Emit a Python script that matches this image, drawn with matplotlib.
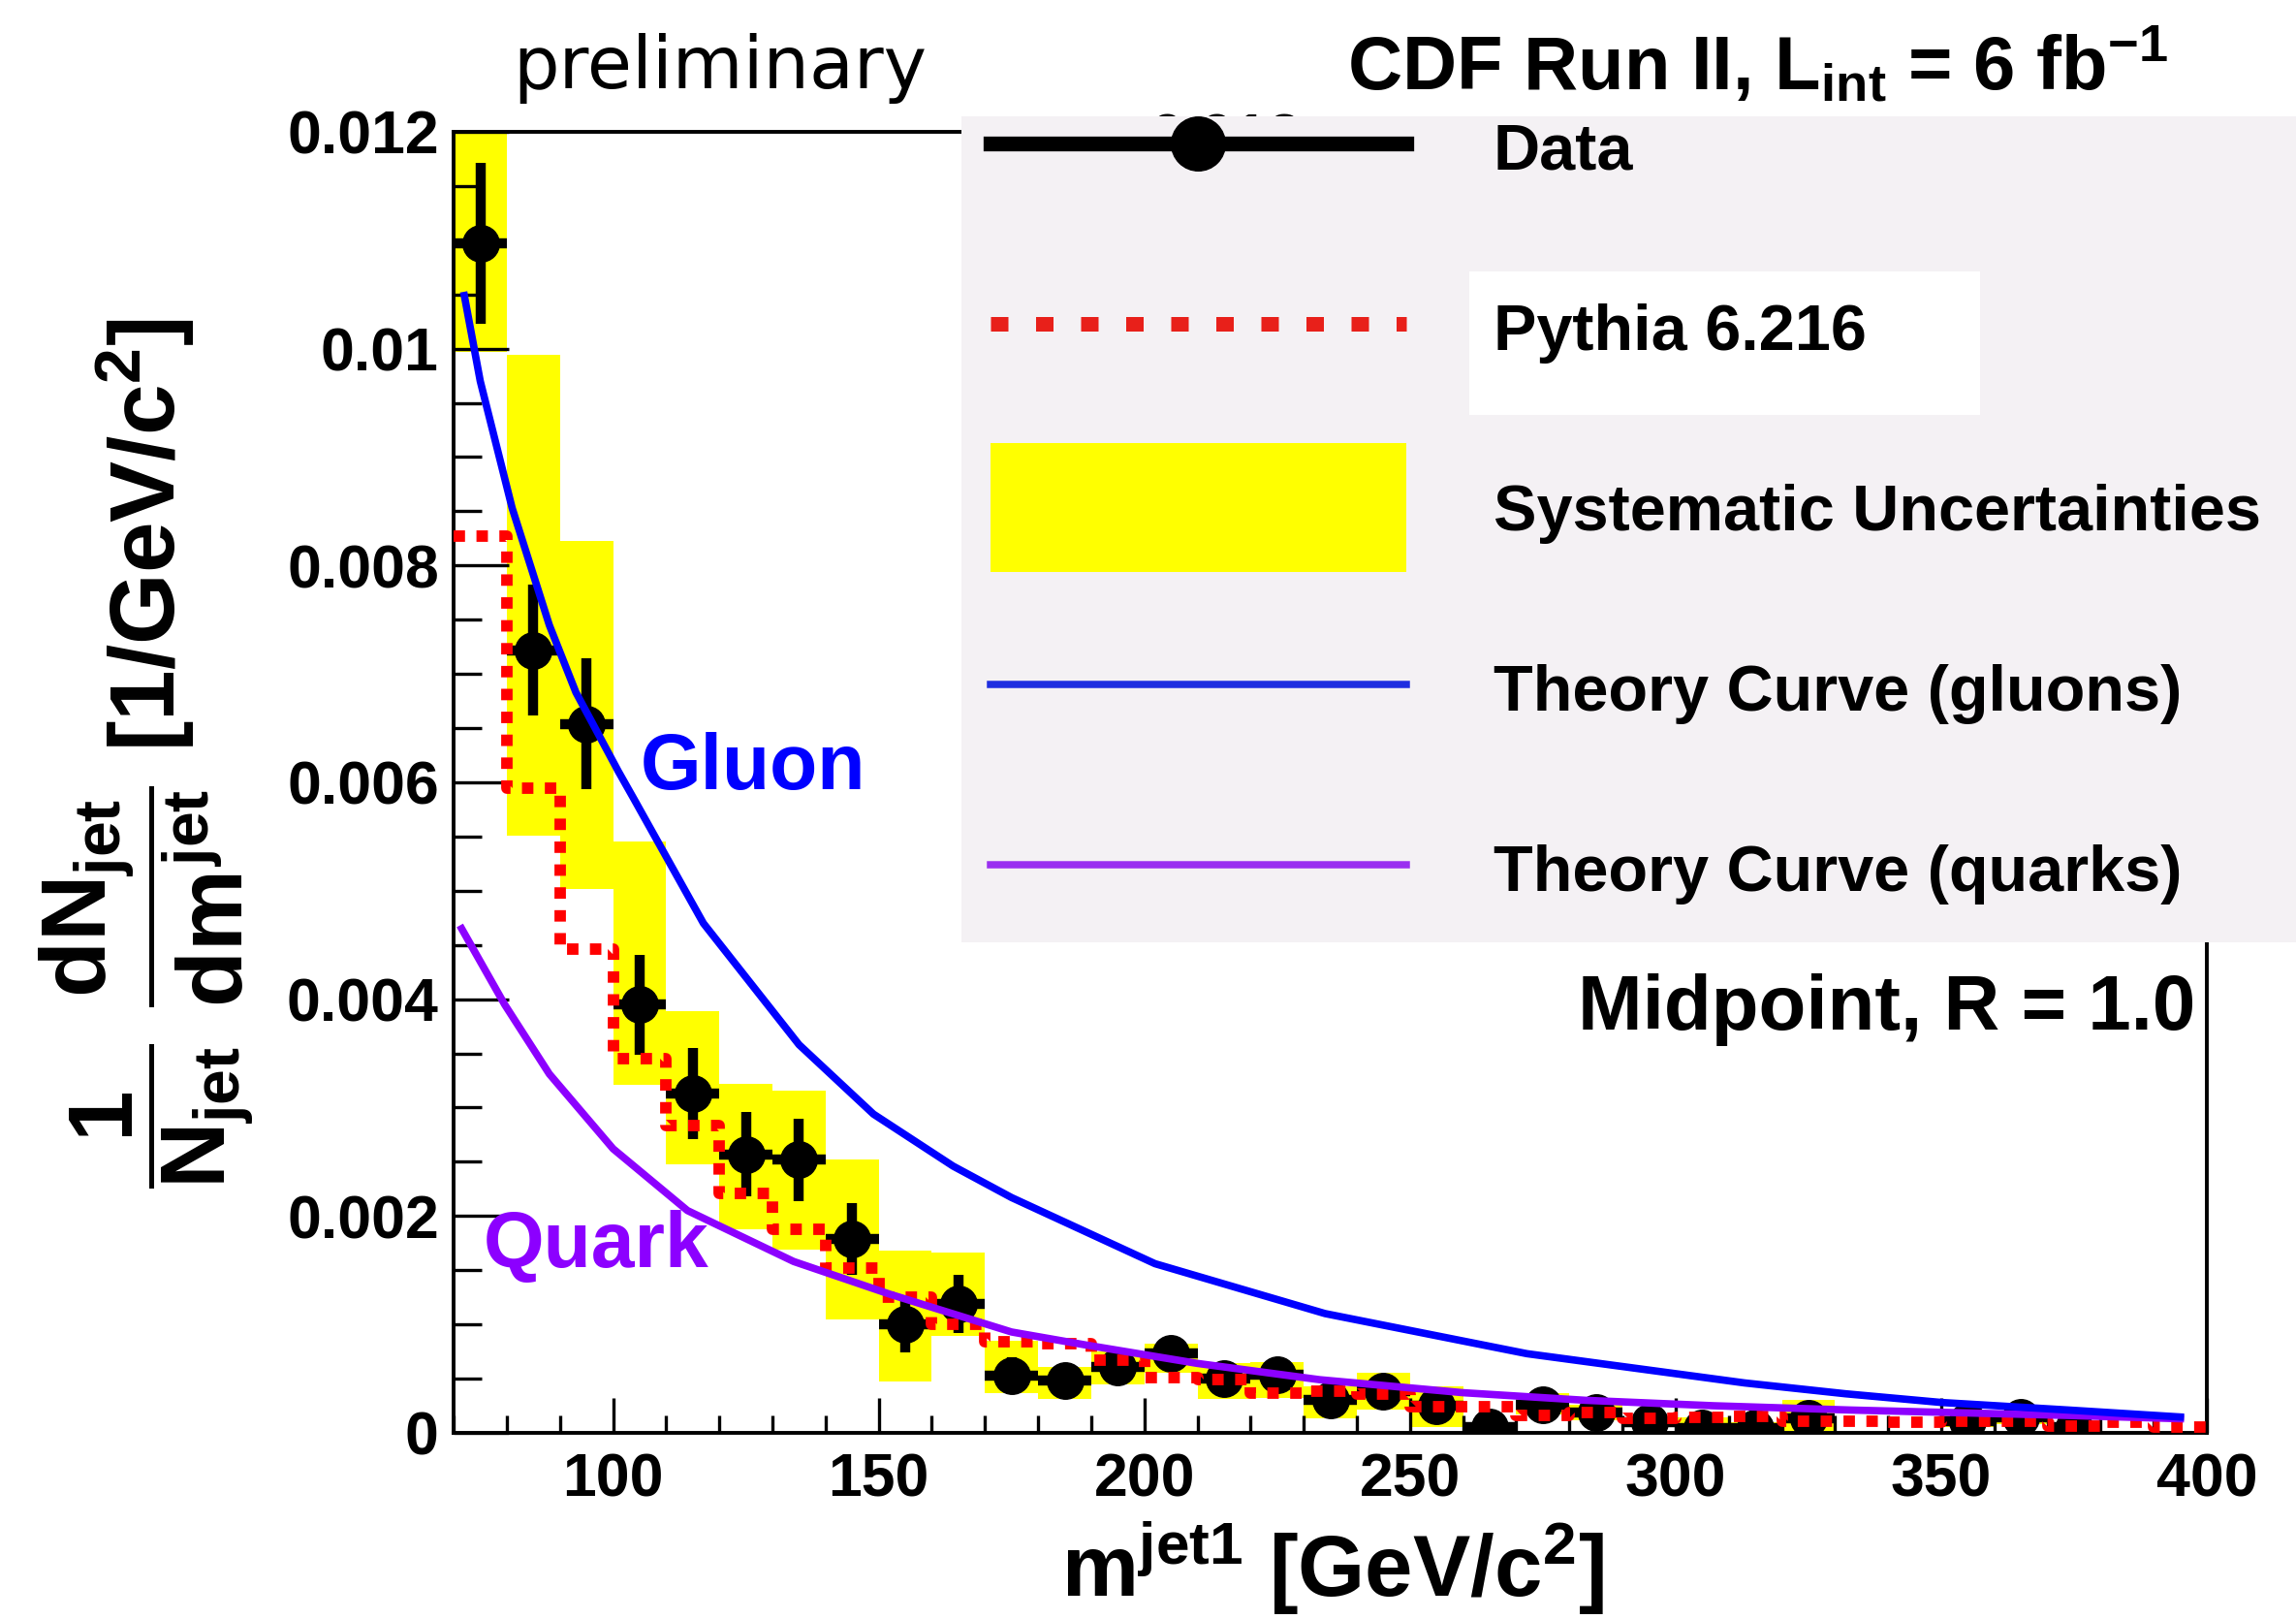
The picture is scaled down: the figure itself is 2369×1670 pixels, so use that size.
import numpy as np
import matplotlib
matplotlib.use('Agg')
import matplotlib.pyplot as plt
from matplotlib.lines import Line2D
from matplotlib.patches import Patch, Rectangle
from matplotlib.legend_handler import HandlerPatch
from matplotlib.ticker import MultipleLocator, FuncFormatter

# bins of the jet mass histogram [GeV/c^2]
bin_edges = [70, 80, 90, 100, 110, 120, 130, 140, 150, 160, 170, 180, 190, 200, 210, 220,
             230, 240, 250, 260, 270, 280, 290, 300, 310, 320, 330, 340, 350, 360, 370, 380,
             390, 400]

# data points (bin centres), value and statistical error
data_x = [75, 85, 95, 105, 115, 125, 135, 145, 155, 165, 175, 185, 195, 205, 215, 225,
          235, 245, 255, 265, 275, 285, 295, 305, 315, 325, 355, 365, 375]
data_y = [0.01097, 0.00722, 0.00654, 0.00395, 0.00313, 0.00257, 0.00252, 0.00179, 0.00100,
          0.00119, 0.00053, 0.00048, 0.00061, 0.00073, 0.00050, 0.00054, 0.00030, 0.00038,
          0.00025, 0.00005, 0.00026, 0.00019, 0.00010, 0.00004, 0.00004, 0.00013, 0.00011,
          0.00014, 0.00005]
data_err = [0.00074, 0.00060, 0.00060, 0.00046, 0.00042, 0.00039, 0.00038, 0.00033, 0.00026,
            0.00027, 0.00017, 0.00012, 0.00014, 0.00014, 0.00011, 0.00010, 0.00008, 0.00008,
            0.00008, 0.00008, 0.00008, 0.00008, 0.00008, 0.00008, 0.00008, 0.00008, 0.00008,
            0.00008, 0.00008]

# systematic uncertainty band per bin (None = empty bin)
syst_lo = [0.00997, 0.00551, 0.00502, 0.00321, 0.00248, 0.00188, 0.00169, 0.00105, 0.00047,
           0.00089, 0.00037, 0.00031, 0.00045, 0.00055, 0.00031, 0.00032, 0.00013, 0.00021,
           0.00005, 0.0, 0.00017, 0.00012, 0.00005, 0.00002, 0.0, 0.00002, None, None,
           0.00005, 0.00008, 0.0, None, None]
syst_hi = [0.0125, 0.00994, 0.00823, 0.00545, 0.00389, 0.00322, 0.00316, 0.00252, 0.00168,
           0.00166, 0.00085, 0.00061, 0.00075, 0.00082, 0.00064, 0.00065, 0.00043, 0.00055,
           0.00043, 0.00010, 0.00037, 0.00026, 0.00014, 0.00014, 0.00010, 0.00030, None, None,
           0.00016, 0.00020, 0.00008, None, None]

# Pythia 6.216 prediction per bin
pythia = [0.00827, 0.00595, 0.00446, 0.00345, 0.00283, 0.00221, 0.00188, 0.00152, 0.00125,
          0.00100, 0.00084, 0.00082, 0.00067, 0.00051, 0.00049, 0.00037, 0.00038, 0.00036,
          0.00024, 0.00024, 0.00016, 0.00019, 0.00013, 0.00014, 0.00015, 0.00011, 0.00011,
          0.00010, 0.00011, 0.00011, 0.00006, 0.00010, 0.00005]

# theory curves
gluon_x = [72, 75, 81, 88, 93, 101, 104, 117, 135, 149, 164, 175, 202, 234, 272, 313, 332,
           350, 374, 395]
gluon_y = [0.01049, 0.00970, 0.00853, 0.00745, 0.00683, 0.00610, 0.00584, 0.00470, 0.00358,
           0.00294, 0.00246, 0.00217, 0.00156, 0.00110, 0.00073, 0.00046, 0.00036, 0.00028,
           0.00021, 0.000146]
quark_x = [71.5, 79.6, 88, 100, 114, 134, 152, 175, 189, 210, 233, 260, 283, 307, 333, 374, 395]
quark_y = [0.00465, 0.00395, 0.00331, 0.00262, 0.00205, 0.00158, 0.00128, 0.00093, 0.00081,
           0.00064, 0.00049, 0.00037, 0.00030, 0.00025, 0.00021, 0.00016, 0.00013]

legend_labels = ['Data', 'Pythia 6.216', 'Systematic Uncertainties',
                 'Theory Curve (gluons)', 'Theory Curve (quarks)']

YELLOW = '#ffff00'
RED = '#ff0000'
BLUE = '#0000ff'
PURPLE = '#8c00ff'

plt.rcParams['font.family'] = ['Liberation Sans', 'DejaVu Sans']
plt.rcParams['font.weight'] = 'bold'
plt.rcParams['mathtext.fontset'] = 'custom'
plt.rcParams['mathtext.rm'] = 'Liberation Sans:bold'
plt.rcParams['mathtext.it'] = 'Liberation Sans:bold'
plt.rcParams['mathtext.bf'] = 'Liberation Sans:bold'
plt.rcParams['mathtext.sf'] = 'Liberation Sans:bold'

fig = plt.figure(figsize=(23.69, 16.70), dpi=100)
ax = fig.add_axes([0.1976, 0.1150, 0.7636, 0.8036])

edges = np.array(bin_edges, dtype=float)
lo = np.array([np.nan if v is None else v for v in syst_lo])
hi = np.array([np.nan if v is None else v for v in syst_hi])
ok = ~np.isnan(lo)
ax.bar(edges[:-1][ok], hi[ok] - lo[ok], width=np.diff(edges)[ok], bottom=lo[ok],
       align='edge', color=YELLOW, linewidth=0, zorder=1)

ax.errorbar(data_x, data_y, xerr=5, yerr=data_err, fmt='o', color='k', ms=27,
            elinewidth=7.5, capsize=0, zorder=2)

ax.step(edges, np.append(pythia, pythia[-1]), where='post', color=RED, lw=8.5,
        ls=(0, (1, 1)), zorder=3)
ax.plot(quark_x, quark_y, color=PURPLE, lw=5.5, zorder=4)
ax.plot(gluon_x, gluon_y, color=BLUE, lw=5.5, zorder=5)

ax.set_xlim(70, 400)
ax.set_ylim(0, 0.012)
ax.xaxis.set_major_locator(MultipleLocator(50))
ax.xaxis.set_minor_locator(MultipleLocator(10))
ax.yaxis.set_major_locator(MultipleLocator(0.002))
ax.yaxis.set_minor_locator(MultipleLocator(0.0005))
ax.yaxis.set_major_formatter(FuncFormatter(lambda v, p: '%g' % round(v, 4)))
ax.tick_params(axis='both', which='both', direction='in', width=2.4, top=False, right=False)
ax.tick_params(axis='x', which='major', length=26, labelsize=45, pad=14)
ax.tick_params(axis='x', which='minor', length=13)
ax.tick_params(axis='y', which='major', length=41, labelsize=45, pad=11)
ax.tick_params(axis='y', which='minor', length=21)
for s in ax.spines.values():
    s.set_linewidth(2.8)

ax.text(105.1, 0.00594, 'Gluon', color=BLUE, fontsize=58, ha='left', va='baseline')
ax.text(75.5, 0.00153, 'Quark', color=PURPLE, fontsize=58, ha='left', va='baseline')
ax.text(397.9, 0.00372, 'Midpoint, R = 1.0', color='k', fontsize=57.5, ha='right',
        va='baseline')

# texts that the legend box partly covers
fig.text(0.5868, 0.944, r'CDF Run II, L$_{\rm int}$ = 6 fb$^{{-}1}$', fontsize=56,
         ha='left', va='baseline', zorder=0.5)
fig.text(0.501, 0.903, '0.012', fontsize=45, ha='left', va='baseline', zorder=0.5)

# legend box (drawn over the top right corner of the frame)
fig.add_artist(Rectangle((0.4187, 0.418), 0.5813, 0.5102, transform=fig.transFigure,
                         facecolor='#f4f1f4', edgecolor='none', zorder=1))
fig.add_artist(Rectangle((0.6399, 0.7437), 0.2224, 0.0886, transform=fig.transFigure,
                         facecolor='white', edgecolor='none', zorder=2))


def tall_patch(legend, orig_handle, xdescent, ydescent, width, height, fontsize):
    h = 2.0 * fontsize
    return Rectangle((-xdescent, -ydescent + height / 2 - h / 2), width, h)


h_data = Line2D([], [], color='k', lw=11, marker='o', ms=40)
h_py = Line2D([], [], color='#e8201a', lw=10.8, ls=(0, (1.2, 1.9)))
h_sys = Patch(facecolor=YELLOW, edgecolor='none')
h_glu = Line2D([], [], color='#1f2ee0', lw=5.4)
h_qrk = Line2D([], [], color='#9a30f0', lw=5.4)
leg = fig.legend([h_data, h_py, h_sys, h_glu, h_qrk], legend_labels,
                 handler_map={Patch: HandlerPatch(patch_func=tall_patch)},
                 loc='upper left', bbox_to_anchor=(0.4314, 0.927), frameon=False,
                 borderaxespad=0, borderpad=0, fontsize=48, handlelength=6.43,
                 handleheight=1.0, handletextpad=1.35, labelspacing=1.79)
leg.set_zorder(5)

fig.text(0.3137, 0.9455, 'preliminary', family='DejaVu Sans', fontweight='normal',
         fontsize=54, ha='center', va='baseline')
fig.text(0.064, 0.535, r'$\dfrac{1}{N_{jet}}\ \dfrac{dN_{jet}}{dm^{jet}}$ [1/GeV/c$^{2}$]',
         rotation=90, fontsize=68, ha='center', va='center')
fig.text(0.5804, 0.014, r'm$^{\rm jet1}$ [GeV/c$^{2}$]', fontsize=64, ha='center',
         va='baseline')

fig.savefig('out.png', dpi=100)
